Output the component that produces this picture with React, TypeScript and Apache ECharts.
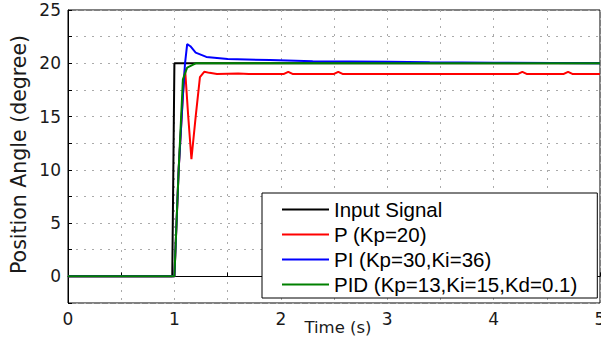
import React, { useEffect, useRef } from "react";
import * as echarts from "echarts";

const inputSignal: [number, number][] = [
  [0, 0], [0.98, 0], [1.0, 20], [5, 20],
];
const pSeries: [number, number][] = [
  [0, 0], [1.0, 0], [1.04, 10], [1.08, 17], [1.1, 19.5], [1.13, 15], [1.16, 11],
  [1.2, 15], [1.24, 18.7], [1.28, 19.2], [1.33, 19.1], [1.4, 19.0], [1.6, 19.05],
  [1.7, 19.0], [2.03, 19.0], [2.07, 19.2], [2.11, 19.0], [2.5, 19.0], [2.54, 19.2],
  [2.58, 19.0], [4.23, 19.0], [4.27, 19.2], [4.31, 19.0], [4.66, 19.0], [4.7, 19.2],
  [4.74, 19.0], [5, 19.0],
];
const piSeries: [number, number][] = [
  [0, 0], [1.0, 0], [1.04, 10], [1.08, 17], [1.1, 20], [1.12, 21.8], [1.15, 21.6],
  [1.2, 21.0], [1.3, 20.6], [1.5, 20.4], [1.9, 20.3], [2.3, 20.2], [3.0, 20.15],
  [3.4, 20.1], [4.0, 20.05], [5, 20.0],
];
const pidSeries: [number, number][] = [
  [0, 0], [1.0, 0], [1.04, 10], [1.08, 18.5], [1.12, 19.6], [1.2, 20], [5, 20],
];
const seriesNames = [
  "Input Signal",
  "P (Kp=20)",
  "PI (Kp=30,Ki=36)",
  "PID (Kp=13,Ki=15,Kd=0.1)",
];
const seriesColors = ["#000000", "#ff0000", "#0000ff", "#008000"];
const seriesData = [inputSignal, pSeries, piSeries, pidSeries];

const AXIS_FONT = "'DejaVu Sans', sans-serif";
const LEGEND_FONT = "'Liberation Sans', Arial, sans-serif";

export default function App() {
  const ref = useRef<HTMLDivElement>(null);
  useEffect(() => {
    if (!ref.current) return;
    const chart = echarts.init(ref.current, undefined, { renderer: "svg" });
    chart.setOption({
      animation: false,
      backgroundColor: "#ffffff",
      textStyle: { fontFamily: AXIS_FONT },
      grid: {
        left: 68, right: 1, top: 10, bottom: 38,
        outerBoundsMode: "none",
        show: true, borderColor: "#000", borderWidth: 1,
      },
      xAxis: {
        type: "value", min: 0, max: 5, interval: 0.5,
        name: "Time (s)", nameLocation: "middle", nameGap: 16,
        nameMoveOverlap: false,
        nameTextStyle: { fontSize: 16.5, color: "#1a1a1a", fontFamily: AXIS_FONT, padding: [0, 0, 0, 8] },
        axisLine: { show: true, lineStyle: { color: "#000" } },
        axisTick: { show: true, inside: true, length: 4, lineStyle: { color: "#000" } },
        axisLabel: {
          fontSize: 17, color: "#1a1a1a", fontFamily: AXIS_FONT, margin: 7,
          formatter: (v: number) => (Number.isInteger(v) ? String(v) : ""),
        },
        splitLine: { show: true, lineStyle: { color: "#aaa", type: [2, 6], width: 1 } },
      },
      yAxis: {
        type: "value", min: -2.5, max: 25, interval: 2.5,
        name: "Position Angle (degree)", nameLocation: "middle", nameGap: 39,
        nameMoveOverlap: false,
        nameRotate: 90,
        nameTextStyle: { fontSize: 20.5, color: "#1a1a1a", fontFamily: AXIS_FONT, padding: [0, 0, 0, 4] },
        axisLine: { show: true, lineStyle: { color: "#000" } },
        axisTick: { show: true, inside: true, length: 4, lineStyle: { color: "#000" } },
        axisLabel: {
          fontSize: 17, color: "#1a1a1a", fontFamily: AXIS_FONT, margin: 7,
          formatter: (v: number) => (v >= 0 && v % 5 === 0 ? String(v) : ""),
        },
        splitLine: { show: true, lineStyle: { color: "#aaa", type: [2, 6], width: 1 } },
      },
      legend: {
        orient: "vertical",
        left: 262, top: 193,
        backgroundColor: "#fff",
        borderColor: "#000", borderWidth: 1,
        padding: [6, 20, 3, 20],
        itemGap: 4,
        itemWidth: 47, itemHeight: 2,
        icon: "rect",
        textStyle: { fontSize: 20.5, color: "#000", fontFamily: LEGEND_FONT },
        data: seriesNames,
      },
      series: seriesData.map((d, i) => ({
        name: seriesNames[i],
        type: "line",
        data: d,
        showSymbol: false,
        color: seriesColors[i],
        lineStyle: { color: seriesColors[i], width: 2 },
        z: 2 + i,
      })),
    });
    return () => chart.dispose();
  }, []);
  return (
    <div
      ref={ref}
      style={{ position: "fixed", left: 0, top: 0, width: 601, height: 341 }}
    />
  );
}
